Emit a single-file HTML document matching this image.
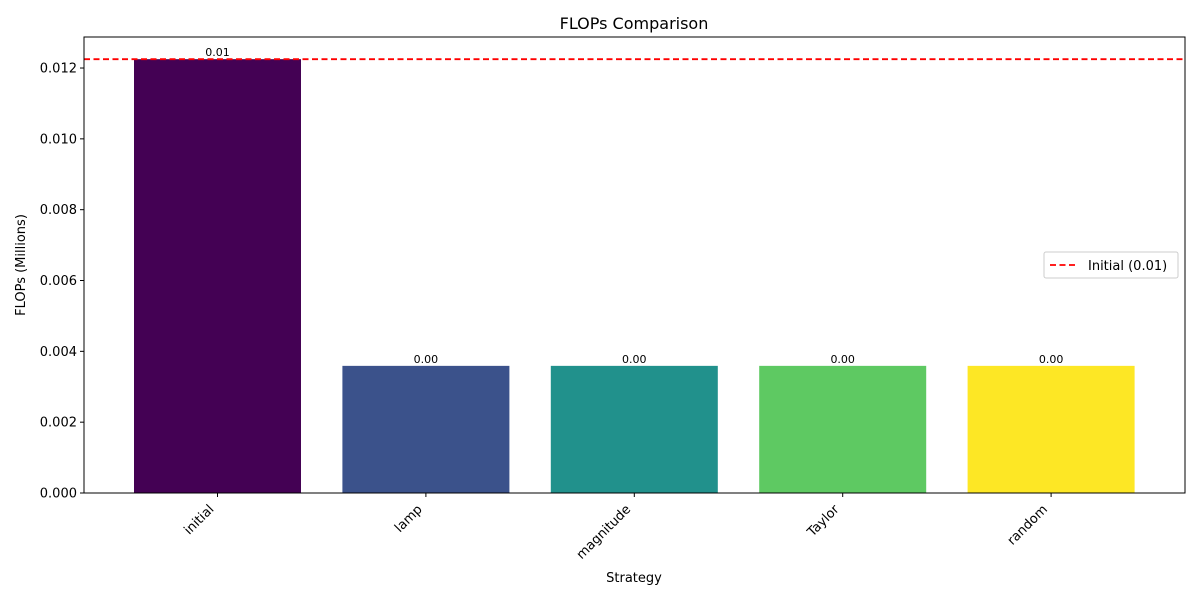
<!DOCTYPE html>
<html><head><meta charset="utf-8"><style>
body{margin:0;background:#fff;font-family:"Liberation Sans","DejaVu Sans",sans-serif;}
svg text{font-family:"DejaVu Sans","Liberation Sans",sans-serif;}
</style></head><body>
<svg id="chart" width="1200" height="600" xmlns="http://www.w3.org/2000/svg">
<rect width="1200" height="600" fill="#fff"/>
<text x="634" y="29" font-size="16" text-anchor="middle">FLOPs Comparison</text>
<g id="bars"></g>
<g id="yticks"></g>
<g id="xticks"></g>
<line id="refline" stroke="#ff0000" stroke-width="1.8" stroke-dasharray="6,3.5"/>
<rect x="84" y="37" width="1101" height="456" fill="none" stroke="#000" stroke-width="1"/>
<text x="634" y="582" font-size="13" text-anchor="middle">Strategy</text>
<text transform="translate(25,265) rotate(-90)" font-size="13" text-anchor="middle">FLOPs (Millions)</text>
<g>
<rect x="1044" y="252" width="134" height="26" rx="2" fill="#fff" stroke="#ccc"/>
<line x1="1050" y1="265" x2="1078" y2="265" stroke="#ff0000" stroke-width="1.8" stroke-dasharray="6,3.5"/>
<text x="1088" y="270" font-size="13">Initial (0.01)</text>
</g>
</svg>
<script>
const categories=["initial","lamp","magnitude","Taylor","random"];
const values=[0.01225,0.00359,0.00359,0.00359,0.00359];
const barLabels=["0.01","0.00","0.00","0.00","0.00"];
const colors=["#440154","#3b528b","#21918c","#5ec962","#fde725"];
const yTicks=[0,0.002,0.004,0.006,0.008,0.010,0.012];
const yTickLabels=["0.000","0.002","0.004","0.006","0.008","0.010","0.012"];
const refValue=0.01225;
const NS="http://www.w3.org/2000/svg";
const L=84,R=1185,T=37,B=493,ymax=0.012876;
const y=v=>B-(v/ymax)*(B-T);
const x=i=>217.5+208.4*i;
const bw=167;
function mk(tag,a){const e=document.createElementNS(NS,tag);for(const k in a)e.setAttribute(k,a[k]);return e;}
const bars=document.getElementById('bars'),xt=document.getElementById('xticks'),yt=document.getElementById('yticks');
categories.forEach((c,i)=>{
 const r=mk('rect',{x:x(i)-bw/2,y:y(values[i]),width:bw,height:B-y(values[i]),fill:colors[i]});
 
 
 bars.appendChild(r);
 const t=mk('text',{x:x(i),y:y(values[i])-3,'font-size':'11','text-anchor':'middle'});
 t.textContent=barLabels[i];
 
 
 bars.appendChild(t);
 xt.appendChild(mk('line',{x1:x(i),x2:x(i),y1:B,y2:B+4,stroke:'#000'}));
 const l=mk('text',{transform:`translate(${x(i)-3},${B+17}) rotate(-45)`,'font-size':'13','text-anchor':'end'});
 l.textContent=c;
 
 
 xt.appendChild(l);
});
yTicks.forEach((v,i)=>{
 yt.appendChild(mk('line',{x1:L-4,x2:L,y1:y(v),y2:y(v),stroke:'#000'}));
 const t=mk('text',{x:L-7,y:y(v)+4.5,'font-size':'13','text-anchor':'end'});
 t.textContent=yTickLabels[i];
 
 
 yt.appendChild(t);
});
const rl=document.getElementById('refline');
rl.setAttribute('x1',L);rl.setAttribute('x2',R);rl.setAttribute('y1',y(refValue));rl.setAttribute('y2',y(refValue));
</script>
</body></html>
